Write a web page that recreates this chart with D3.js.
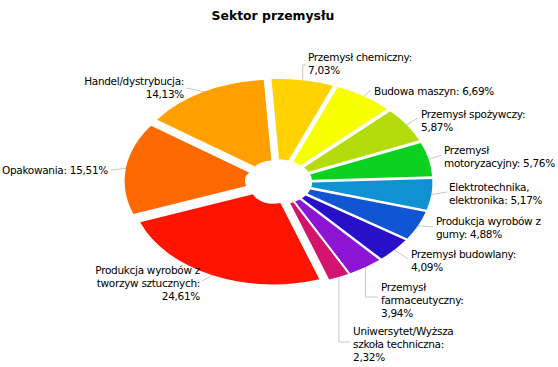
<!DOCTYPE html>
<html>
<head>
<meta charset="utf-8">
<script src="https://cdn.jsdelivr.net/npm/d3@7"></script>
<style>
  body { margin: 0; background: #fff; }
  text { font-family: "DejaVu Sans", sans-serif; font-size: 10.5px; letter-spacing: -0.3px; fill: #000; }
  .title { font-weight: bold; font-size: 12.4px; letter-spacing: 0; }
</style>
</head>
<body>
<svg id="chart"></svg>
<script>
/* data */
const sectors = [
  "Przemysł chemiczny", "Budowa maszyn", "Przemysł spożywczy",
  "Przemysł motoryzacyjny", "Elektrotechnika, elektronika",
  "Produkcja wyrobów z gumy", "Przemysł budowlany", "Przemysł farmaceutyczny",
  "Uniwersytet/Wyższa szkoła techniczna", "Produkcja wyrobów z tworzyw sztucznych",
  "Opakowania", "Handel/dystrybucja"
];
const shares = [7.03, 6.69, 5.87, 5.76, 5.17, 4.88, 4.09, 3.94, 2.32, 24.61, 15.51, 14.13];
const colors = [
  "#FFD200", "#F7FF00", "#B4DC0A", "#0AD21E", "#0F91D2", "#1055D2",
  "#2810C8", "#8C14D2", "#D2146E", "#FF1400", "#FF6900", "#FFA000"
];
// label text as drawn (line breaks)
const labelLines = [
  ["Przemysł chemiczny:", "7,03%"],
  ["Budowa maszyn: 6,69%"],
  ["Przemysł spożywczy:", "5,87%"],
  ["Przemysł", "motoryzacyjny: 5,76%"],
  ["Elektrotechnika,", "elektronika: 5,17%"],
  ["Produkcja wyrobów z", "gumy: 4,88%"],
  ["Przemysł budowlany:", "4,09%"],
  ["Przemysł", "farmaceutyczny:", "3,94%"],
  ["Uniwersytet/Wyższa", "szkoła techniczna:", "2,32%"],
  ["Produkcja wyrobów z", "tworzyw sztucznych:", "24,61%"],
  ["Opakowania: 15,51%"],
  ["Handel/dystrybucja:", "14,13%"]
];

/* layout */
const width = 558, height = 367,
  cx = 278.5, cy = 182,
  k = 0.67,          // vertical squash of the pie
  outer = 142, inner = 21.7,
  explode = 12,
  lineH = 13,
  start = -3.6 * Math.PI / 180;

// label placement: [x, first baseline, anchor, leader end x, leader end y]
const labelPos = [
  [308, 61, "start", 306, 65],
  [374, 95, "start", 371, 90],
  [421, 117.5, "start", 418, 118],
  [444, 154, "start", 442, 155],
  [449, 191, "start", 447, 192],
  [436, 225, "start", 433, 227],
  [411, 258, "start", 408, 259],
  [381, 291, "start", 378, 297],
  [353, 335, "start", 350, 342],
  [200, 274, "end", 202, 281],
  [108, 174, "end", 111, 170],
  [184, 85, "end", 186, 88]
];

let svg = d3.select("#chart").attr("width", width).attr("height", height);

svg.append("text")
  .attr("class", "title")
  .attr("x", 273)
  .attr("y", 20)
  .attr("text-anchor", "middle")
  .text("Sektor przemysłu");

const pie = d3.pie().sort(null).startAngle(start).endAngle(start + 2 * Math.PI);
const arc = d3.arc().innerRadius(inner).outerRadius(outer);
const arcs = pie(shares);

const mid = d => (d.startAngle + d.endAngle) / 2;
const edgePoint = d => {
  let a = mid(d), r = outer + explode;
  return [cx + r * Math.sin(a), cy - k * r * Math.cos(a)];
};

/* leader lines */
svg.append("g")
  .selectAll("path")
  .data(arcs)
  .join("path")
  .attr("fill", "none")
  .attr("stroke", "#c8c8c8")
  .attr("stroke-width", 1)
  .attr("d", (d, i) => {
    let p = edgePoint(d), lp = labelPos[i];
    if (Math.abs(lp[4] - p[1]) > 12)
      return `M${p[0]},${p[1]}L${p[0]},${lp[4]}L${lp[3]},${lp[4]}`;
    return `M${p[0]},${p[1]}L${lp[3]},${lp[4]}`;
  });

/* slices */
svg.append("g")
  .selectAll("path")
  .data(arcs)
  .join("path")
  .attr("fill", (d, i) => colors[i])
  .attr("transform", d => {
    let a = mid(d);
    return `translate(${cx + explode * Math.sin(a)},${cy - k * explode * Math.cos(a)}) scale(1,${k})`;
  })
  .attr("d", arc);

/* labels */
let labels = svg.append("g")
  .selectAll("text")
  .data(arcs)
  .join("text")
  .attr("text-anchor", (d, i) => labelPos[i][2])
  .attr("x", (d, i) => labelPos[i][0])
  .attr("y", (d, i) => labelPos[i][1]);

labels.selectAll("tspan")
  .data((d, i) => labelLines[i].map(t => ({ t, x: labelPos[i][0] })))
  .join("tspan")
  .attr("x", d => d.x)
  .attr("dy", (d, j) => (j === 0 ? 0 : lineH))
  .text(d => d.t);
</script>
</body>
</html>
